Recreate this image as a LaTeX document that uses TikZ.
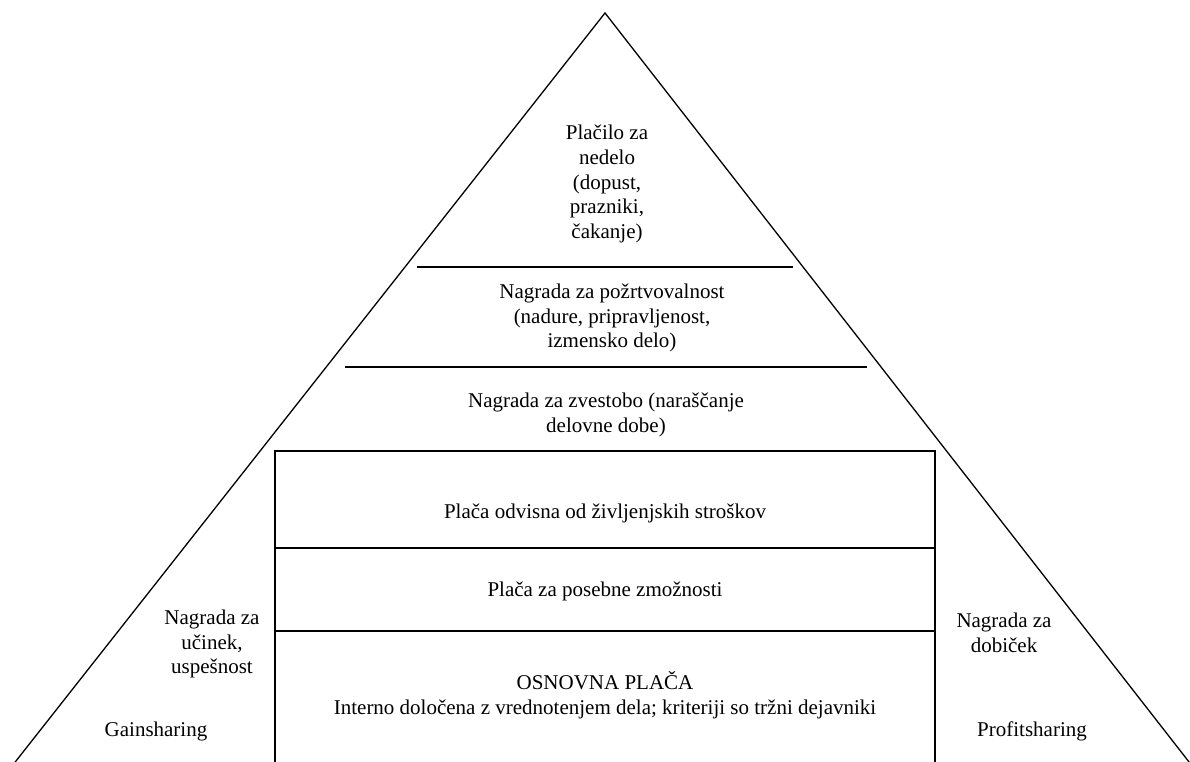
\documentclass[tikz,border=0pt]{standalone}
\usepackage{fontspec}
\setmainfont{Liberation Serif}
\begin{document}
\begin{tikzpicture}[x=1pt,y=-1pt,
  edge/.style={line width=1.3pt},
  sep/.style={line width=1.7pt},
  lbl/.style={align=center,inner sep=0pt,font=\fontsize{21}{24.6}\selectfont}]
\useasboundingbox (0,0) rectangle (1190,762);
\clip (0,0) rectangle (1190,762);
% triangle
\coordinate (apex) at (605,13);
\coordinate (bl) at (-10,794);
\coordinate (br) at (1214,794);
\draw[edge] (bl) -- (apex) -- (br);
% separators in the triangle
\draw[sep] (417,267) -- (793,267);
\draw[sep] (345,367) -- (867,367);
% rectangle (open at bottom)
\draw[edge] (275,800) -- (275,451) -- (935,451) -- (935,800);
\draw[sep] (275,548) -- (935,548);
\draw[sep] (275,631) -- (935,631);
% texts
\node[lbl] (t1) at (607,184) {Plačilo za\\nedelo\\(dopust,\\prazniki,\\čakanje)};
\node[lbl] (t2) at (612,318) {Nagrada za požrtvovalnost\\(nadure, pripravljenost,\\izmensko delo)};
\node[lbl] (t3) at (606,415) {Nagrada za zvestobo (naraščanje\\delovne dobe)};
\node[lbl] (t4) at (605,513) {Plača odvisna od življenjskih stroškov};
\node[lbl] (t5) at (605,591) {Plača za posebne zmožnosti};
\node[lbl] (t6) at (605,695) {OSNOVNA PLAČA\\Interno določena z vrednotenjem dela; kriteriji so tržni dejavniki};
\node[lbl] (l1) at (212,644) {Nagrada za\\učinek,\\uspešnost};
\node[lbl] (l2) at (156,731) {Gainsharing};
\node[lbl] (r1) at (1004,633) {Nagrada za\\dobiček};
\node[lbl] (r2) at (1032,731) {Profitsharing};
\end{tikzpicture}
\end{document}
